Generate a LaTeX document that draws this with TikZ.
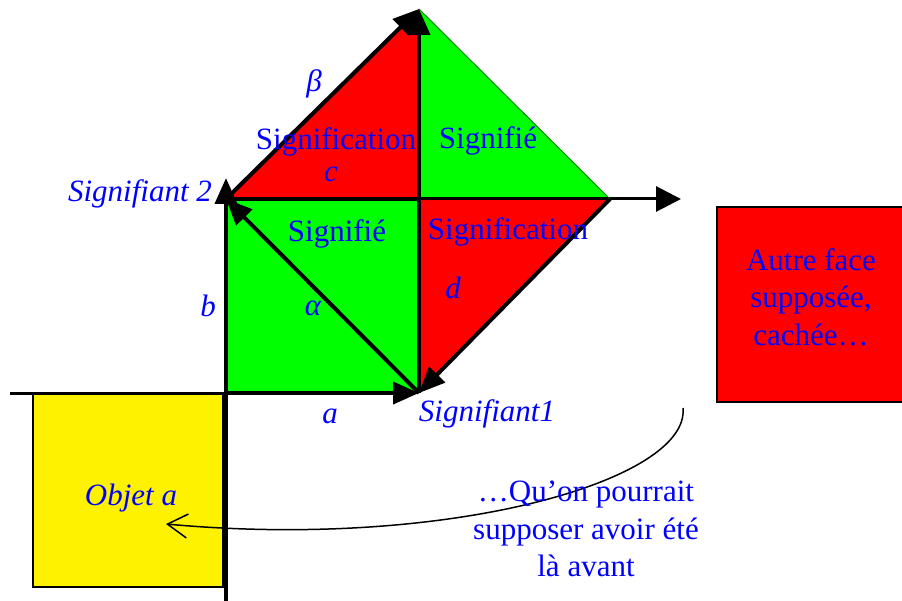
\documentclass[tikz,border=0pt]{standalone}
\usepackage{fontspec}
\setmainfont{Liberation Serif}
\usetikzlibrary{arrows.meta}

\begin{document}
\begin{tikzpicture}[x=1pt,y=-1pt,
  fleche/.style={-{Triangle[length=26pt,width=22pt]}, line width=4pt},
  bleu/.style={text=blue, inner sep=0pt, font=\fontsize{31}{37.5}\selectfont},
  lettre/.style={bleu, font=\fontsize{31}{37.5}\selectfont\itshape}]
\useasboundingbox (0,0) rectangle (902,601);
\coordinate (O) at (226,393);
\coordinate (S1) at (419,393);
\coordinate (S2) at (226,199);
\coordinate (T) at (419,9);
\coordinate (M) at (419,199);
\coordinate (R) at (610,199);
\coordinate (X) at (681,199);
\coordinate (B) at (226,178);
\coordinate (Xg) at (10,393);
\coordinate (Yb) at (226,601);
\coordinate (Dep) at (683,408);
\coordinate (Arr) at (166,524);

% surfaces
\fill[yellow] (33,394) rectangle (223,587);
\draw[line width=2pt] (33,394) rectangle (223,587);
\fill[red] (717,207) rectangle (905,402);
\draw[line width=2pt] (717,207) rectangle (905,402);
\fill[green] (S2) rectangle (S1);
\fill[red] (S2) -- (T) -- (M) -- cycle;
\fill[green] (T) -- (R) -- (M) -- cycle;
\fill[red] (M) -- (R) -- (S1) -- cycle;

% axes
\draw[line width=3pt] (Xg) -- (O);
\draw[line width=4pt] (O) -- (Yb);
\draw[-{Triangle[length=25pt,width=25pt]}, line width=3pt] (M) -- (X);
\draw[line width=4pt] (S2) -- (M);
\draw[green!55!black, line width=1pt] (T) -- (R);

% fleches
\draw[fleche] (O) -- (S1);
\draw[fleche] (O) -- (B);
\draw[fleche] (S1) -- (S2);
\draw[fleche] (S2) -- (T);
\draw[fleche] (S1) -- (T);
\draw[fleche] (R) -- (S1);
\draw[-{Straight Barb[length=20pt,width=24pt]}, line width=1.5pt]
  (Dep) .. controls (690,480) and (450,550) .. (Arr);

% textes
\node[lettre] at (314,84) {β};
\node[bleu] at (336,142) {Signification};
\node[lettre] at (331,174) {c};
\node[bleu] at (488,141) {Signifié};
\node[lettre] at (140,194) {Signifiant 2};
\node[bleu] at (337,234) {Signifié};
\node[bleu] at (508,232) {Signification};
\node[lettre] at (208,306) {b};
\node[lettre] at (313,308) {α};
\node[lettre] at (453,288) {d};
\node[lettre] at (330,416) {a};
\node[lettre] at (487,414) {Signifiant1};
\node[lettre] at (131,498) {Objet a};
\node[bleu, align=center] at (586,529) {…Qu’on pourrait\\supposer avoir été\\là avant};
\node[bleu, align=center] at (811,297) {Autre face\\supposée,\\cachée…};
\end{tikzpicture}
\end{document}
